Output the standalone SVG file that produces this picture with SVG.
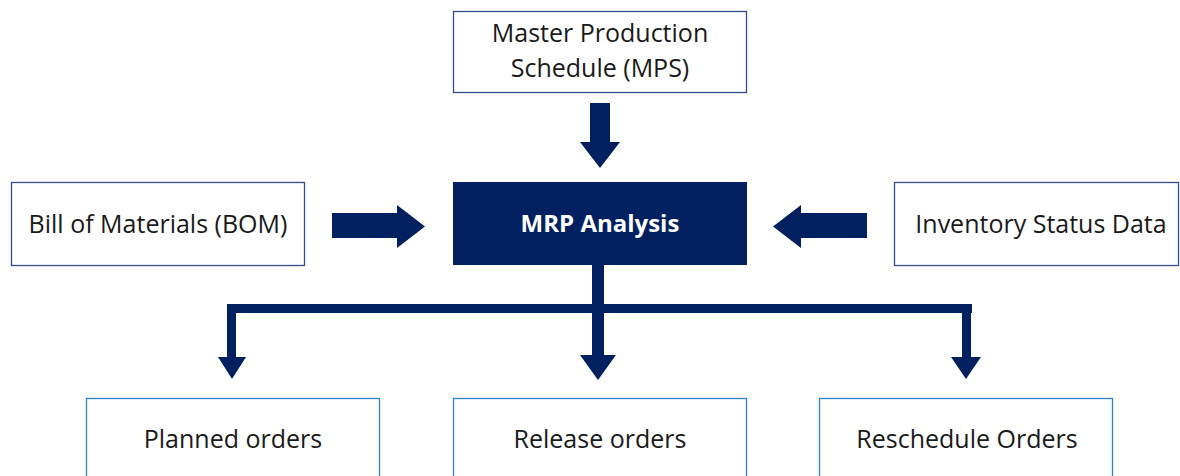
<svg xmlns="http://www.w3.org/2000/svg" width="1180" height="476" viewBox="0 0 1180 476">
  <style>
    .box { fill: #ffffff; stroke: #2F4E8C; stroke-width: 1.3; }
    .out { fill: #ffffff; stroke: #2E80D2; stroke-width: 1.3; }
    .lbl { font-family: "Open Sans", "Noto Sans", sans-serif; font-size: 25px; fill: #1a1a1a; text-anchor: middle; }
    .main { fill: #002060; }
    .mainlbl { font-family: "Open Sans", "Noto Sans", sans-serif; font-size: 24px; font-weight: bold; fill: #ffffff; text-anchor: middle; }
    .arr { fill: #002060; }
  </style>
  <rect width="1180" height="476" fill="#ffffff"/>
  <g id="connectors">
    <polygon class="arr" points="590,103 610,103 610,142 620,142 600,168 580,142 590,142"/>
    <polygon class="arr" points="332,213 397,213 397,205 425,226.5 397,248 397,238 332,238"/>
    <polygon class="arr" points="867,213 801,213 801,205 773,226.5 801,248 801,238 867,238"/>
    <rect class="arr" x="592" y="265" width="12" height="92"/>
    <rect class="arr" x="227" y="304" width="745" height="9"/>
    <rect class="arr" x="227" y="304" width="9" height="55"/>
    <rect class="arr" x="962" y="304" width="9" height="55"/>
    <polygon class="arr" points="218,357 246,357 232,379"/>
    <polygon class="arr" points="580,355 616,355 598,380"/>
    <polygon class="arr" points="951,357 981,357 966,379"/>
  </g>
  <g id="node-mps">
    <rect class="box" x="453.5" y="11.5" width="293" height="81"/>
    <text class="lbl" x="600" y="42">Master Production</text>
    <text class="lbl" x="600" y="77">Schedule (MPS)</text>
  </g>
  <g id="node-bom">
    <rect class="box" x="11.5" y="182.5" width="293" height="83"/>
    <text class="lbl" x="158" y="233">Bill of Materials (BOM)</text>
  </g>
  <g id="node-mrp">
    <rect class="main" x="453" y="182" width="294" height="83"/>
    <text class="mainlbl" x="600" y="232">MRP Analysis</text>
  </g>
  <g id="node-inventory">
    <rect class="box" x="894.5" y="182.5" width="284" height="83"/>
    <text class="lbl" x="1041" y="233">Inventory Status Data</text>
  </g>
  <g id="node-planned">
    <rect class="out" x="86.5" y="398.5" width="293" height="90"/>
    <text class="lbl" x="233" y="448">Planned orders</text>
  </g>
  <g id="node-release">
    <rect class="out" x="453.5" y="398.5" width="293" height="90"/>
    <text class="lbl" x="600" y="448">Release orders</text>
  </g>
  <g id="node-reschedule">
    <rect class="out" x="819.5" y="398.5" width="293" height="90"/>
    <text class="lbl" x="967" y="448">Reschedule Orders</text>
  </g>
</svg>
